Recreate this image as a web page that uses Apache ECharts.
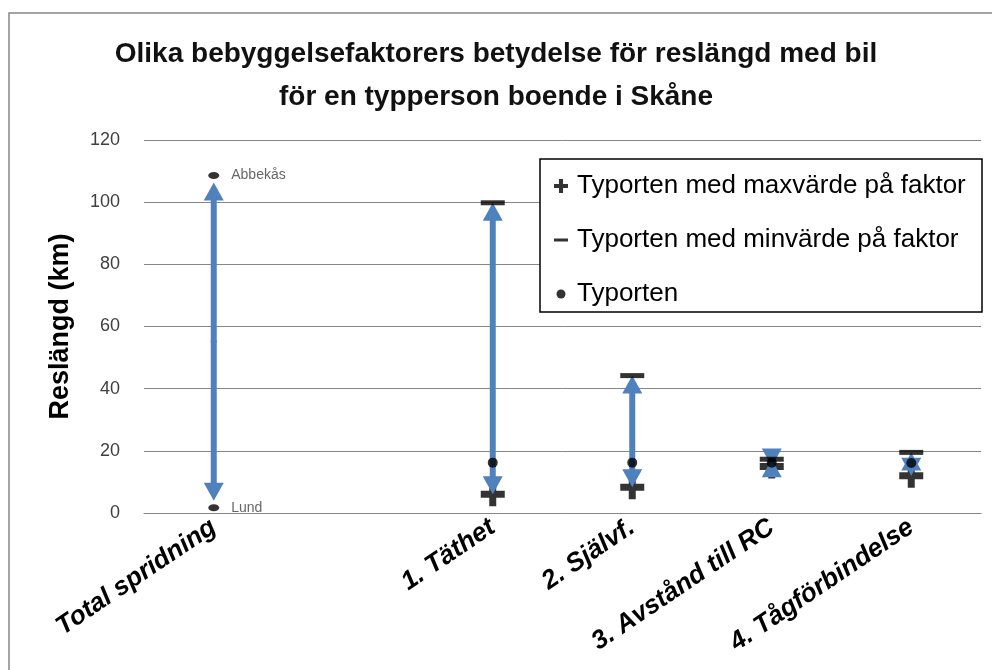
<!DOCTYPE html>
<html>
<head>
<meta charset="utf-8">
<script src="https://cdn.jsdelivr.net/npm/echarts@6/dist/echarts.min.js"></script>
<style>
  html, body { margin: 0; padding: 0; background: #fff; }
  #chart { width: 992px; height: 670px; }
</style>
</head>
<body>
<div id="chart"></div>
<script>
// kategorier (tom plats mellan total och faktorerna)
const kategorier = ['Total spridning', '', '1. Täthet', '2. Självf.', '3. Avstånd till RC', '4. Tågförbindelse'];
// reslängd i km
const typorten = [null, null, 16.2, 16.2, 16.2, 16.1];
const maxFaktor = [null, null, 6.0, 8.3, 15.0, 12.0];
const minFaktor = [null, null, 99.8, 44.2, 17.3, 19.5];
const totalNamn = ['Abbekås', 'Lund'];
const totalVarden = [108.6, 1.7];

const BLUE = '#4F81BD';
const FONT = '"Liberation Sans", Arial, sans-serif';
const PLUS = 'path://M8.5,0H15.5V8.5H24V15.5H15.5V24H8.5V15.5H0V8.5H8.5Z';

// pilar: [kategori, start, slut]
const pilar = [];
kategorier.forEach((k, i) => {
  if (typorten[i] == null) return;
  pilar.push([i, typorten[i], minFaktor[i]]);
  pilar.push([i, typorten[i], maxFaktor[i]]);
});
const mitt = (totalVarden[0] + totalVarden[1]) / 2;
pilar.push([0, mitt, totalVarden[0]]);
pilar.push([0, mitt, totalVarden[1]]);

const HEAD = 18;
function renderPil(params, api) {
  const s = api.coord([api.value(0), api.value(1)]);
  const e = api.coord([api.value(0), api.value(2)]);
  const dir = e[1] < s[1] ? -1 : 1;
  // totalpilen slutar en bit innan markeringen
  const tip = e[1] - dir * (api.value(0) === 0 ? 7 : 0);
  const base = tip - dir * HEAD;
  const children = [];
  if ((base - s[1]) * dir > 0) {
    children.push({
      type: 'line',
      shape: { x1: s[0], y1: s[1] - dir, x2: s[0], y2: base + dir },
      style: { stroke: BLUE, lineWidth: 6 }
    });
  }
  children.push({
    type: 'polygon',
    shape: { points: [[s[0], tip], [s[0] - 10, base], [s[0] + 10, base]] },
    style: { fill: BLUE }
  });
  return { type: 'group', children };
}

const chart = echarts.init(document.getElementById('chart'));
chart.setOption({
  animation: false,
  textStyle: { fontFamily: FONT },
  title: {
    text: 'Olika bebyggelsefaktorers betydelse för reslängd med bil\nför en typperson boende i Skåne',
    left: 'center',
    top: 28,
    textStyle: { fontSize: 28, fontWeight: 'bold', color: '#111', lineHeight: 43, fontFamily: FONT }
  },
  graphic: [
    { type: 'rect', shape: { x: 9, y: 13, width: 1000, height: 700 }, style: { fill: 'none', stroke: '#868686', lineWidth: 1.5 }, z: -1 },
    { type: 'rect', shape: { x: 540, y: 159, width: 442, height: 153 }, style: { fill: '#fff', stroke: '#000', lineWidth: 1.5 }, z: 10 }
  ],
  legend: {
    orient: 'vertical',
    left: 549,
    top: 168,
    itemGap: 28,
    itemWidth: 14,
    itemHeight: 14,
    z: 11,
    textStyle: { fontSize: 26, color: '#000', padding: [0, 0, 0, 4] },
    data: [
      { name: 'Typorten med maxvärde på faktor', icon: PLUS },
      { name: 'Typorten med minvärde på faktor', icon: 'path://M0,0M0,5.5H14V8.5H0ZM14,14' },
      { name: 'Typorten', icon: 'path://M0,0M11.5,7A4.5,4.5,0,1,1,2.5,7A4.5,4.5,0,1,1,11.5,7ZM14,14' }
    ]
  },
  grid: { left: 144, right: 11, top: 140, bottom: 157 },
  xAxis: {
    type: 'category',
    data: kategorier,
    axisLine: { lineStyle: { color: '#868686', width: 1 } },
    axisTick: { length: 7, lineStyle: { color: '#868686' } },
    axisLabel: {
      rotate: 34,
      interval: 0,
      margin: 12,
      fontSize: 26,
      fontWeight: 'bold',
      fontStyle: 'italic',
      color: '#000'
    }
  },
  yAxis: {
    type: 'value',
    min: 0,
    max: 120,
    interval: 20,
    name: 'Reslängd (km)',
    nameLocation: 'middle',
    nameGap: 70,
    nameTextStyle: { fontSize: 27, fontWeight: 'bold', color: '#000' },
    axisLine: { show: false },
    axisTick: { show: false },
    axisLabel: { fontSize: 18, color: '#404040', margin: 24 },
    splitLine: { lineStyle: { color: '#868686', width: 1 } }
  },
  series: [
    {
      name: 'Typorten med maxvärde på faktor',
      type: 'scatter',
      data: maxFaktor,
      symbol: PLUS,
      symbolSize: 24,
      itemStyle: { color: '#000' },
      z: 2
    },
    {
      type: 'custom',
      renderItem: renderPil,
      data: pilar,
      encode: { x: 0, y: [1, 2] },
      silent: true,
      z: 3
    },
    {
      name: 'Typorten med minvärde på faktor',
      type: 'scatter',
      data: minFaktor,
      symbol: 'rect',
      symbolSize: [24, 5],
      itemStyle: { color: '#000' },
      z: 4
    },
    {
      name: 'Typorten',
      type: 'scatter',
      data: typorten,
      symbol: 'circle',
      symbolSize: 10,
      itemStyle: { color: '#000' },
      z: 5
    },
    {
      type: 'scatter',
      data: totalVarden.map((v, i) => ({ value: [0, v], name: totalNamn[i] })),
      symbol: 'circle',
      symbolSize: [11, 7],
      itemStyle: { color: '#000' },
      label: {
        show: true,
        position: 'right',
        distance: 12,
        formatter: '{b}',
        fontSize: 14,
        color: '#404040'
      },
      z: 5
    }
  ]
});
</script>
</body>
</html>
